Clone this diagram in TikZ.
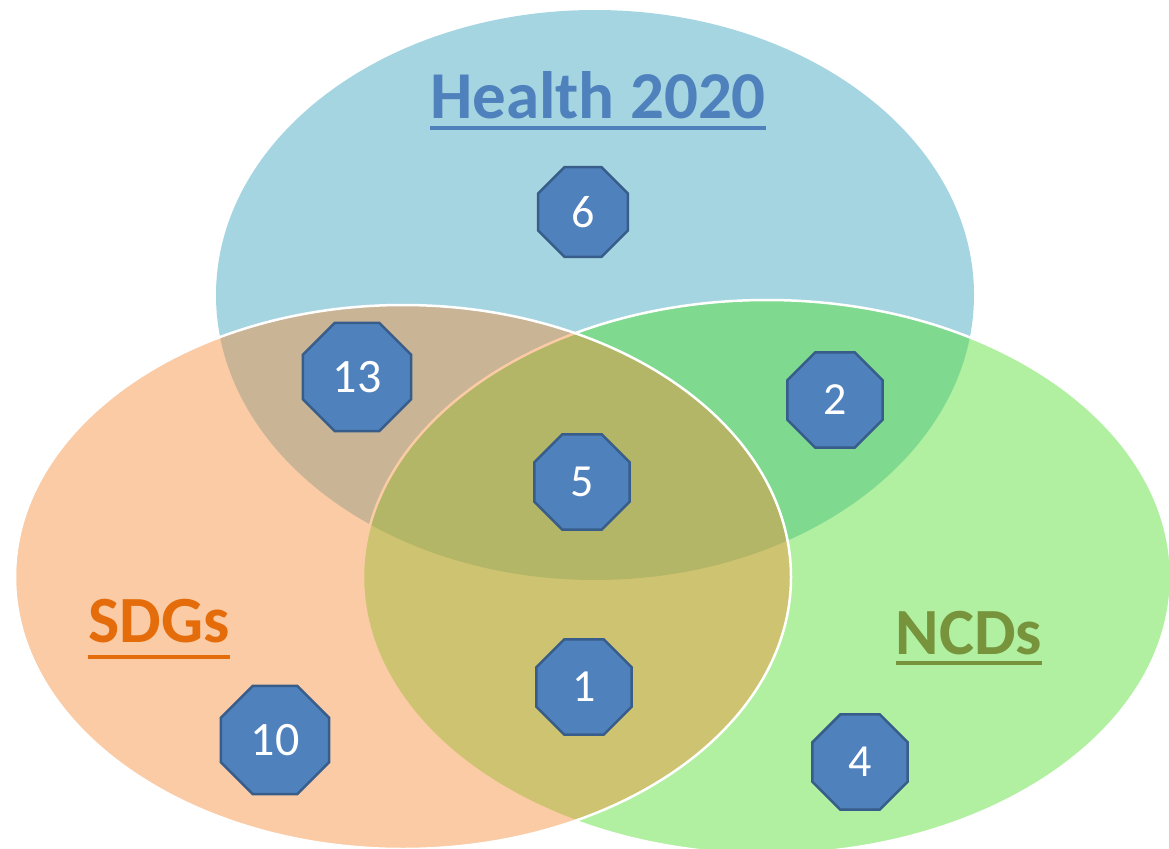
\documentclass[tikz,border=0pt]{standalone}
\usepackage{fontspec}
\setmainfont{Carlito}
\usetikzlibrary{shapes.geometric}
\definecolor{bluefill}{RGB}{166,213,226}
\definecolor{greenfill}{RGB}{80,222,44}
\definecolor{orangefill}{RGB}{244,140,56}
\definecolor{octfill}{RGB}{79,129,189}
\definecolor{octline}{RGB}{56,93,138}
\definecolor{healthcol}{RGB}{79,129,189}
\definecolor{sdgcol}{RGB}{228,108,10}
\definecolor{ncdcol}{RGB}{119,147,60}
\tikzset{
  octo/.style={shape=regular polygon, regular polygon sides=8, fill=octfill, draw=octline,
    line width=2.5pt, inner sep=0pt, minimum size=103pt, text=white,
    font=\fontsize{46}{46}\selectfont},
  bigocto/.style={octo, minimum size=117pt, font=\fontsize{48}{48}\selectfont},
  setlabel/.style={inner sep=0pt, anchor=base, font=\bfseries\fontsize{66}{66}\selectfont},
  uline/.style={line width=4pt}
}
\begin{document}
\begin{tikzpicture}[x=1pt,y=-1pt]
\useasboundingbox (0,0) rectangle (1169,848);
\clip (0,0) rectangle (1169,848);
% sets
\fill[bluefill] (595,295) ellipse [x radius=379pt, y radius=285pt];
\filldraw[fill=greenfill, fill opacity=0.45, draw=white, line width=2.5pt] (767,577) ellipse [x radius=404pt, y radius=277pt];
\filldraw[fill=orangefill, fill opacity=0.45, draw=white, line width=2.5pt] (403,577) ellipse [x radius=388pt, y radius=272pt];
% labels
\node[setlabel, text=healthcol, font=\bfseries\fontsize{67}{67}\selectfont] (health) at (598,118) {Health 2020};
\draw[uline, healthcol] ([yshift=-10pt]health.base west) -- ([yshift=-10pt]health.base east);
\node[setlabel, text=sdgcol, font=\bfseries\fontsize{66}{66}\selectfont] (sdg) at (159,642) {SDGs};
\draw[uline, sdgcol] ([yshift=-15pt]sdg.base west) -- ([yshift=-15pt]sdg.base east);
\node[setlabel, text=ncdcol] (ncd) at (969,654) {NCDs};
\draw[uline, ncdcol] ([yshift=-9pt]ncd.base west) -- ([yshift=-9pt]ncd.base east);
% counts
\node[octo, minimum size=97pt] (n6) at (583,212) {6};
\node[bigocto] (n13) at (357,377) {13};
\node[octo] (n2) at (835,400) {2};
\node[octo] (n5) at (582,482) {5};
\node[octo] (n1) at (584,687) {1};
\node[bigocto] (n10) at (275,740) {10};
\node[octo] (n4) at (860,762) {4};
\end{tikzpicture}
\end{document}
